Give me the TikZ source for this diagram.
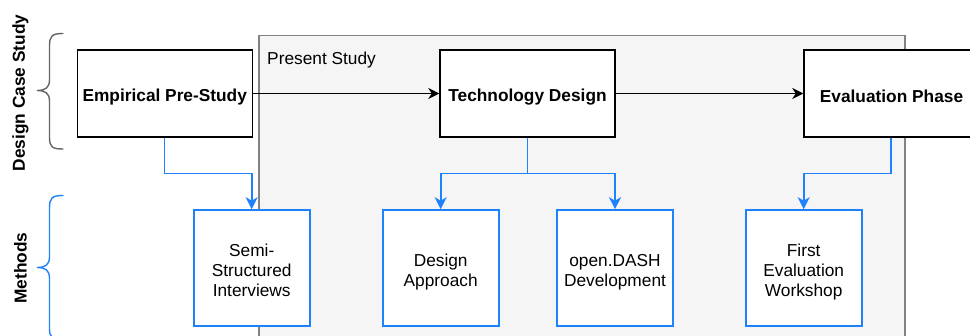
\documentclass[tikz,border=0pt]{standalone}
\usepackage{fontspec}
\setmainfont{Liberation Sans}
\usetikzlibrary{arrows.meta}

\definecolor{methodblue}{RGB}{30,130,255}
\definecolor{studyfill}{RGB}{245,245,245}
\definecolor{studyline}{RGB}{130,130,130}
\definecolor{bracegray}{RGB}{100,100,100}

\tikzset{
  phasebox/.style={draw=black, fill=white, line width=1.5pt, minimum width=175pt,
    minimum height=87pt, inner sep=0pt},
  phasetext/.style={inner sep=0pt, font=\fontsize{17.3}{20}\selectfont\bfseries},
  methodbox/.style={draw=methodblue, fill=white, line width=1.6pt, minimum width=116pt,
    minimum height=116pt, inner sep=0pt},
  methodtext/.style={inner sep=0pt, align=center, font=\fontsize{17.3}{20}\selectfont},
  flowarrow/.style={line width=1.5pt, draw=black,
    -{Stealth[length=11pt,width=11pt,inset=3.5pt]}},
  methodarrow/.style={line width=1.6pt, draw=methodblue,
    -{Stealth[length=12pt,width=12pt,inset=3.5pt,fill=methodblue]}},
  sidelabel/.style={rotate=90, font=\fontsize{17.3}{20}\selectfont\bfseries},
  bracepath/.style={line width=1.4pt, line cap=round}
}

\begin{document}
\begin{tikzpicture}[x=1pt,y=-1pt]
  \useasboundingbox (0,0) rectangle (970,336);
  \clip (0,0) rectangle (970,336);

  % shaded area of the present study
  \draw[studyline, fill=studyfill, line width=1.4pt] (259,400) -- (259,35.5) -- (905,35.5) -- (905,400);
  \node[anchor=west, font=\fontsize{17.3}{20}\selectfont] (present) at (263.7,60) {Present Study};

  % main phases (yshift is in page units, so negative moves the text down)
  \node[phasebox] (pre)  at (164.75,93.5) {};
  \node[phasebox] (tech) at (527.5,93.5)  {};
  \node[phasebox] (eval) at (891.5,93.5)  {};
  \node[phasetext] (pretext)  at ([yshift=-3.3pt]pre.center)  {Empirical Pre-Study};
  \node[phasetext] (techtext) at ([yshift=-3.3pt]tech.center) {Technology Design};
  \node[phasetext] (evaltext) at ([yshift=-3.3pt]eval.center) {Evaluation Phase};

  % methods
  \node[methodbox] (semi)  at (251.7,268) {};
  \node[methodbox] (appr)  at (440.7,268) {};
  \node[methodbox] (dash)  at (615,268)   {};
  \node[methodbox] (work)  at (803.7,268) {};
  \node[methodtext] (semitext) at ([yshift=-2pt]semi.center) {Semi-\\Structured\\Interviews};
  \node[methodtext] (apprtext) at ([yshift=-4pt]appr.center) {Design\\Approach};
  \node[methodtext] (dashtext) at ([yshift=-4pt]dash.center) {open.DASH\\Development};
  \node[methodtext] (worktext) at ([yshift=-4pt]work.center) {First\\Evaluation\\Workshop};

  % phase sequence
  \draw[flowarrow] (pre.east) -- (tech.west);
  \draw[flowarrow] (tech.east) -- (eval.west);

  % phases to methods
  \coordinate (preturn) at (164.5,173.5);
  \coordinate (techturn) at (527.5,173.5);
  \coordinate (evalturn) at (890.7,173.5);
  \draw[methodarrow] (pre.south -| preturn) -- (preturn) -| (semi.north);
  \draw[methodarrow] (tech.south) -- (techturn) -| (appr.north);
  \draw[methodarrow] (techturn) -| (dash.north);
  \draw[methodarrow] (eval.south -| evalturn) -- (evalturn) -| (work.north);

  % braces and their labels
  \draw[bracepath, bracegray] (63,33.5) .. controls (52,33.5) and (49.5,36) .. (49.5,46)
    -- (49.5,80) .. controls (49.5,88) and (45,90.5) .. (37,90.5)
    .. controls (45,90.5) and (49.5,93) .. (49.5,101)
    -- (49.5,137) .. controls (49.5,147) and (52,149) .. (63,149);
  \draw[bracepath, methodblue] (63,195.5) .. controls (52,195.5) and (49.5,198) .. (49.5,208)
    -- (49.5,257) .. controls (49.5,265) and (45,267.5) .. (37,267.5)
    .. controls (45,267.5) and (49.5,270) .. (49.5,278)
    -- (49.5,329) .. controls (49.5,337) and (52,339.5) .. (63,339.5);
  \node[sidelabel] (dcs) at (20.5,93) {Design Case Study};
  \node[sidelabel] (meth) at (20.5,268) {Methods};
\end{tikzpicture}
\end{document}
